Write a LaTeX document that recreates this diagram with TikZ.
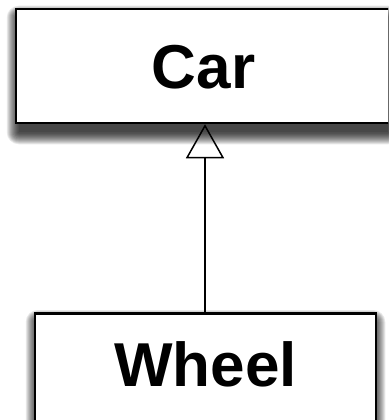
\documentclass[tikz,border=0pt]{standalone}
\usepackage{fontspec}
\setmainfont{Liberation Sans}
\usetikzlibrary{positioning,arrows.meta,calc,backgrounds}

\tikzset{
  classbox/.style={draw=black, line width=2.5pt, fill=white, rectangle,
    font=\fontsize{62}{70}\selectfont\bfseries, text height=45pt},
  shadowlayer/.style={fill=black, fill opacity=0.09, draw=none},
  inherit/.style={line width=1.5pt, -{Triangle[open, length=34pt, width=38pt, line width=1.5pt]}}
}

\begin{document}
\begin{tikzpicture}[x=1pt,y=1pt,yscale=-1,xscale=1]
\useasboundingbox (0,0) rectangle (388,420);
\clip (0,0) rectangle (388,420);

% Class Car
\node [classbox, minimum width=375pt, minimum height=114pt, text depth=0pt] (car) at (203.5,66) {Car};
% Class Wheel
\node [classbox, anchor=north, minimum width=341pt, inner ysep=28pt, text depth=70pt] (wheel) at (205.5,312) {Wheel};

% Inheritance
\draw [inherit] (wheel.north -| 205,0) -- (car.south -| 205,0);

% Shadows
\begin{scope}[on background layer]
\fill[white] (0,0) rectangle (388,420);
\foreach \r in {0,...,12} {
  \fill [shadowlayer, rounded corners=\r] ($(car.north west)+(4-\r,10-\r)$) rectangle ($(car.south east)+(-4+\r,8+\r)$);
  \fill [shadowlayer, rounded corners=\r] ($(wheel.north west)+(4-\r,10-\r)$) rectangle ($(wheel.south east)+(-4+\r,8+\r)$);
}
\end{scope}

\end{tikzpicture}
\end{document}
